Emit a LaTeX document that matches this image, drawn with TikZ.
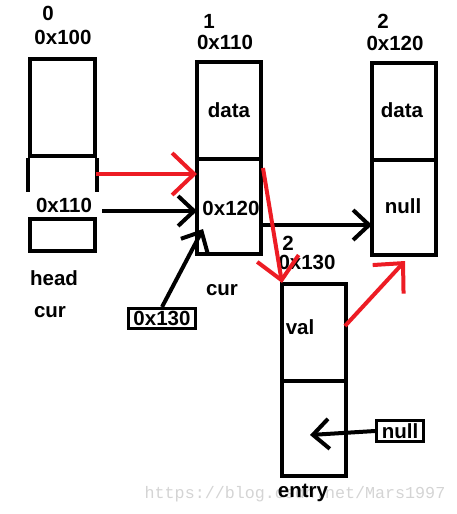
\documentclass[tikz,border=0pt]{standalone}
\usepackage{fontspec}
\setmainfont{Liberation Sans}
\newfontfamily\markfont{Liberation Mono}
\usetikzlibrary{arrows.meta}
\definecolor{paintred}{RGB}{237,28,36}
\definecolor{markgray}{RGB}{212,212,212}

\begin{document}
\begin{tikzpicture}[x=1pt,y=-1pt,
  cell/.style={draw,line width=4pt,inner sep=0pt,minimum width=64pt},
  txt/.style={inner sep=0pt,font=\fontsize{20.5}{24}\selectfont\bfseries},
  tag/.style={txt,draw,line width=3pt,inner sep=2pt},
  blk/.style={line width=4pt,-{Straight Barb[length=16pt,width=30pt,line width=4pt]}},
  rdd/.style={blk,draw=paintred,-{Straight Barb[length=22pt,width=42pt,line width=4pt]}}]
\useasboundingbox (0,0) rectangle (457,514);

% ---------------- node 0 (head) ----------------
\node[cell,minimum width=65pt,minimum height=97pt] (c0) at (62.5,107.5) {};
\draw[line width=4pt] (c0.south west) -- ++(0,34);
\draw[line width=4pt] (c0.south east) -- ++(0,34);
\node[cell,minimum width=65pt,minimum height=32pt] (h0) at (62.5,235) {};
\node[txt] (n0) at (48,13) {0};
\node[txt] (a0) at (63,37) {0x100};
\node[txt] (p0) at (64,205) {0x110};
\node[txt] (head) at (54,278) {head};
\node[txt] (cur0) at (50,312) {cur};

% ---------------- node 1 ----------------
\node[cell,minimum height=97pt] (d1) at (229,110.5) {};
\node[cell,minimum height=95pt] (x1) at (229,206.5) {};
\node[txt] at (d1) {data};
\node[txt] (p1) at (231,208) {0x120};
\node[txt] (n1) at (209,21) {1};
\node[txt] (a1) at (225,42) {0x110};
\node[txt] (cur1) at (222,290) {cur};

% ---------------- node 2 ----------------
\node[cell,minimum height=97pt] (d2) at (404,111.5) {};
\node[cell,minimum height=95pt] (x2) at (404,207.5) {};
\node[txt] at (402,110) {data};
\node[txt] (p2) at (403,206) {null};
\node[txt] (n2) at (383,21) {2};
\node[txt] (a2) at (395,43) {0x120};

% ---------------- new entry ----------------
\node[cell,minimum height=97pt] (d3) at (314,332.5) {};
\node[cell,minimum height=95pt] (x3) at (314,428.5) {};
\node[txt] (val) at (300,327) {val};
\node[txt] (n3) at (288,243) {2};
\node[txt] (a3) at (307,262) {0x130};

\node[font=\markfont\fontsize{16.7}{20}\selectfont,text=markgray,inner sep=0pt]
  (mark) at (295,494) {https://blog.csdn.net/Mars1997};
\node[txt] (entry) at (303,493) {entry};

% ---------------- boxed values ----------------
\node[tag,minimum width=67pt,minimum height=20pt] (b130) at (162,318.5) {0x130};
\node[tag,minimum width=47pt,minimum height=21pt] (bnull) at (400,431) {null};

% ---------------- pointers ----------------
\coordinate (r0) at (96,174);
\coordinate (r1) at (197,174);
\coordinate (k0) at (102,211);
\coordinate (k1) at (197,211);
\coordinate (k2) at (262,225);
\coordinate (k3) at (372,225);
\coordinate (r2) at (263,168);
\coordinate (r3) at (282,283);
\coordinate (r4) at (345,326);
\coordinate (r5) at (405,261);
\coordinate (k4) at (203,229);
\coordinate (k5) at (310,435);

\draw[rdd] (r0) -- (r1);
\draw[blk] (k0) -- (k1);
\draw[blk] (k2) -- (k3);
\draw[rdd] (r2) -- (r3);
\draw[rdd] (r4) -- (r5);
\draw[blk] (b130.north) -- (k4);
\draw[blk] (bnull.west) -- (k5);

\end{tikzpicture}
\end{document}
